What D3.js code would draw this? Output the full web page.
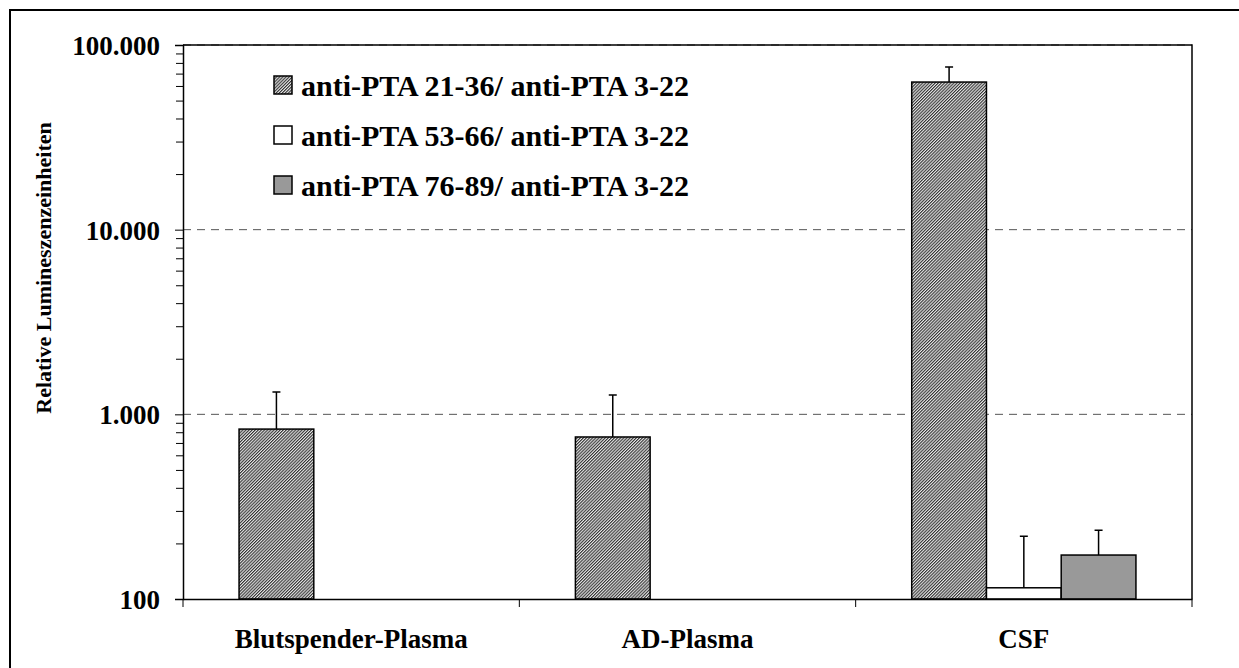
<!DOCTYPE html>
<html>
<head>
<meta charset="utf-8">
<script src="https://cdn.jsdelivr.net/npm/d3@7"></script>
<style>
  body { margin: 0; background: #fff; }
  svg { display: block; }
  text { font-family: "Liberation Serif", "Times New Roman", serif; font-weight: bold; fill: #000; }
</style>
</head>
<body>
<svg id="chart" width="1239" height="668"></svg>
<script>
// data
const categories = ["Blutspender-Plasma", "AD-Plasma", "CSF"];
const seriesNames = [
  "anti-PTA 21-36/ anti-PTA 3-22",
  "anti-PTA 53-66/ anti-PTA 3-22",
  "anti-PTA 76-89/ anti-PTA 3-22"
];
const values1 = [832, 754, 63000];
const errors1 = [490, 520, 12900];
const values2 = [null, null, 115];
const errors2 = [null, null, 104];
const values3 = [null, null, 173];
const errors3 = [null, null, 63];
const yTicks = [100, 1000, 10000, 100000];
const yTickLabels = ["100", "1.000", "10.000", "100.000"];

var svg = d3.select("#chart"),
  width = +svg.attr("width"),
  height = +svg.attr("height");

const margin = { left: 183, right: 1192, top: 45, bottom: 599 };

// outer frame
svg.append("rect")
  .attr("x", 10).attr("y", 10)
  .attr("width", width).attr("height", height)
  .attr("fill", "none").attr("stroke", "#000").attr("stroke-width", 2);

// fill patterns
const defs = svg.append("defs");
const pat = defs.append("pattern")
  .attr("id", "hatch")
  .attr("patternUnits", "userSpaceOnUse")
  .attr("width", 2.2).attr("height", 2.2)
  .attr("patternTransform", "rotate(45)");
pat.append("rect").attr("width", 2.2).attr("height", 2.2).attr("fill", "#e8e8e8");
pat.append("rect").attr("width", 1.1).attr("height", 2.2).attr("fill", "#333");

const fills = ["url(#hatch)", "#ffffff", "#999999"];

const x = d3.scaleBand()
  .domain(categories)
  .range([margin.left, margin.right]);

// Excel style: gap width 150% -> bars fill the middle 2/3 of each band
const xInner = d3.scaleBand()
  .domain(d3.range(3))
  .range([x.bandwidth() / 6, x.bandwidth() * 5 / 6]);

const y = d3.scaleLog()
  .domain([100, 100000])
  .range([margin.bottom, margin.top]);

// gridlines
svg.append("g")
  .selectAll("line")
  .data(yTicks.slice(1))
  .enter()
  .append("line")
  .attr("x1", margin.left).attr("x2", margin.right)
  .attr("y1", (d) => y(d)).attr("y2", (d) => y(d))
  .attr("stroke", "#555")
  .attr("stroke-width", 1)
  .attr("stroke-dasharray", "8,6");

// plot frame (top and right)
svg.append("path")
  .attr("d", `M${margin.left},${margin.top}H${margin.right}V${margin.bottom}`)
  .attr("fill", "none").attr("stroke", "#000").attr("stroke-width", 1.5);

const series = [
  { values: values1, errors: errors1 },
  { values: values2, errors: errors2 },
  { values: values3, errors: errors3 }
];

const bars = [];
series.forEach((s, si) => {
  categories.forEach((c, ci) => {
    if (s.values[ci] != null) {
      bars.push({ si, cat: c, v: s.values[ci], e: s.errors[ci] });
    }
  });
});

// error bars
const errG = svg.append("g").attr("class", "errors");
errG.selectAll("path")
  .data(bars)
  .enter()
  .append("path")
  .attr("d", (d) => {
    const cx = x(d.cat) + xInner(d.si) + xInner.bandwidth() / 2;
    const y0 = y(d.v), y1 = y(d.v + d.e);
    return `M${cx},${y0}V${y1}M${cx - 4},${y1}H${cx + 4}`;
  })
  .attr("fill", "none")
  .attr("stroke", "#000")
  .attr("stroke-width", 1.5);

const barG = svg.append("g").attr("class", "bars");
barG.selectAll("rect")
  .data(bars)
  .enter()
  .append("rect")
  .attr("x", (d) => x(d.cat) + xInner(d.si))
  .attr("width", xInner.bandwidth())
  .attr("y", (d) => y(d.v))
  .attr("height", (d) => y(100) - y(d.v))
  .attr("fill", (d) => fills[d.si])
  .attr("stroke", "#000")
  .attr("stroke-width", 1.5);

// y axis
const minorTicks = [];
[100, 1000, 10000].forEach((b) => {
  for (let k = 2; k <= 9; k++) minorTicks.push(b * k);
});
const yAxis = svg.append("g")
  .attr("transform", `translate(${margin.left},0)`)
  .call(d3.axisLeft(y).tickValues(yTicks).tickSize(8).tickFormat((d, i) => yTickLabels[i]));
yAxis.select(".domain").attr("stroke-width", 1.5);
yAxis.selectAll("text")
  .attr("x", -23)
  .attr("dy", "0.35em")
  .style("font-size", "27px")
  .style("font-family", "'Liberation Serif', 'Times New Roman', serif")
  .style("font-weight", "bold");

svg.append("g")
  .attr("transform", `translate(${margin.left},0)`)
  .call(d3.axisLeft(y).tickValues(minorTicks).tickSize(7).tickFormat(""))
  .call((g) => g.select(".domain").remove());

// x axis
const xAxis = svg.append("g")
  .attr("transform", `translate(0,${margin.bottom})`)
  .call(d3.axisBottom(x).tickSize(0).tickPadding(30));
xAxis.select(".domain").attr("stroke-width", 1.5);
xAxis.selectAll("text")
  .style("font-size", "27px")
  .style("font-family", "'Liberation Serif', 'Times New Roman', serif")
  .style("font-weight", "bold");

// category separator ticks
svg.append("g")
  .selectAll("line")
  .data(categories.map((c) => x(c)).concat([margin.right]))
  .enter()
  .append("line")
  .attr("x1", (d) => d).attr("x2", (d) => d)
  .attr("y1", margin.bottom).attr("y2", margin.bottom + 8)
  .attr("stroke", "#000").attr("stroke-width", 1);

// y title
svg.append("text")
  .attr("transform", "translate(43,268) rotate(-90)")
  .attr("text-anchor", "middle")
  .attr("dy", "0.35em")
  .style("font-size", "22px")
  .text("Relative Lumineszenzeinheiten");

// legend
const legend = svg.append("g")
  .attr("class", "legend")
  .selectAll("g")
  .data(seriesNames)
  .enter()
  .append("g")
  .attr("transform", (d, i) => `translate(274,${85 + i * 50})`);

legend.append("rect")
  .attr("x", 0).attr("y", -9)
  .attr("width", 18).attr("height", 18)
  .attr("fill", (d, i) => fills[i])
  .attr("stroke", "#000").attr("stroke-width", 1.5);

legend.append("text")
  .attr("x", 27)
  .attr("dy", "0.35em")
  .style("font-size", "30px")
  .text((d) => d);
</script>
</body>
</html>
